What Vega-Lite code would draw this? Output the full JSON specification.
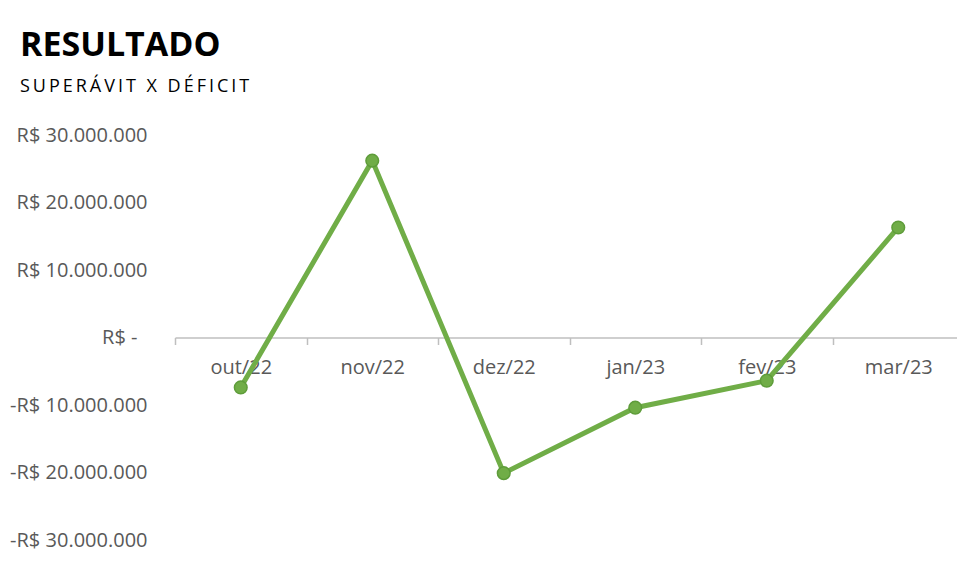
{
  "$schema": "https://vega.github.io/schema/vega-lite/v6.json",
  "autosize": {"type": "none"},
  "padding": {"left": 175, "top": 135, "right": 0, "bottom": 39},
  "width": 782,
  "height": 405,
  "background": "white",
  "config": {
    "view": {"stroke": null},
    "locale": {"number": {"decimal": ",", "thousands": ".", "grouping": [3], "currency": ["R$ ", ""]}},
    "font": "Open Sans"
  },
  "title": {
    "text": "RESULTADO",
    "subtitle": "S\u2009U\u2009P\u2009E\u2009R\u2009Á\u2009V\u2009I\u2009T\u2009 \u2009X\u2009 \u2009D\u2009É\u2009F\u2009I\u2009C\u2009I\u2009T",
    "anchor": "start",
    "frame": "group",
    "dx": -155,
    "offset": 29,
    "font": "Open Sans",
    "fontSize": 34,
    "fontWeight": "bold",
    "color": "#000000",
    "subtitleFont": "Open Sans",
    "subtitleFontSize": 18,
    "subtitleColor": "#000000",
    "subtitlePadding": 15
  },
  "data": {
    "values": [
      {"mes": "out/22", "resultado": -7400000},
      {"mes": "nov/22", "resultado": 26200000},
      {"mes": "dez/22", "resultado": -20100000},
      {"mes": "jan/23", "resultado": -10400000},
      {"mes": "fev/23", "resultado": -6400000},
      {"mes": "mar/23", "resultado": 16300000}
    ]
  },
  "encoding": {
    "x": {
      "field": "mes",
      "type": "ordinal",
      "sort": null,
      "bandPosition": 0.5,
      "scale": {"type": "band", "paddingInner": 0, "paddingOuter": 0, "range": [0, 789]},
      "axis": {
        "title": null,
        "orient": "bottom",
        "offset": -202.5,
        "tickBand": "extent",
        "domainColor": "#BFBFBF",
        "domainWidth": 1.5,
        "tickColor": "#BFBFBF",
        "tickWidth": 1.5,
        "tickSize": 7,
        "labelAngle": 0,
        "labelFont": "Open Sans",
        "labelFontSize": 20,
        "labelColor": "#595959",
        "labelPadding": 13,
        "grid": false
      }
    },
    "y": {
      "field": "resultado",
      "type": "quantitative",
      "scale": {"domain": [-30000000, 30000000], "nice": false, "zero": false},
      "axis": {
        "title": null,
        "values": [-30000000, -20000000, -10000000, 0, 10000000, 20000000, 30000000],
        "labelExpr": "datum.value == 0 ? 'R$ -' : (datum.value < 0 ? '-R$ ' : 'R$ ') + format(abs(datum.value), ',.0f')",
        "domain": false,
        "ticks": false,
        "grid": false,
        "labelFont": "Open Sans",
        "labelFontSize": 20,
        "labelColor": "#595959",
        "labelPadding": {"condition": {"test": "datum.value == 0", "value": 38}, "value": 28}
      }
    }
  },
  "layer": [
    {"mark": {"type": "line", "color": "#70AD47", "strokeWidth": 5}},
    {"mark": {"type": "point", "filled": true, "fill": "#70AD47", "stroke": "#5E9C3A", "strokeWidth": 1.5, "size": 160, "opacity": 1}}
  ]
}
